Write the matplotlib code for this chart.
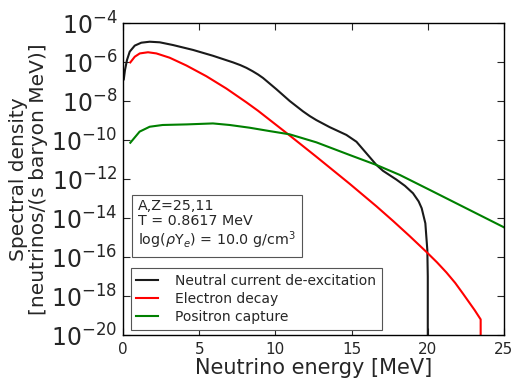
import matplotlib
matplotlib.use('Agg')
import matplotlib.pyplot as plt
import numpy as np

# neutrino spectra, energies in MeV, values as log10 of spectral density
e_nc = [0.05, 0.13, 0.26, 0.44, 0.77, 1.2, 1.75, 2.41, 3.28, 4.59, 5.9, 7.22, 7.7,
        8.1, 8.5, 8.86, 9.19, 10.07, 10.94, 11.81, 12.25, 12.69, 13.56, 14.66, 15.32,
        15.97, 16.63, 17.06, 17.94, 18.5, 19.03, 19.4, 19.6, 19.84, 19.97, 20.0, 20.0]
log_nc = [-6.89, -6.41, -5.9, -5.47, -5.16, -5.01, -4.96, -4.99, -5.13, -5.38, -5.68,
          -6.02, -6.16, -6.3, -6.47, -6.64, -6.82, -7.4, -8.0, -8.53, -8.77, -8.98,
          -9.34, -9.74, -10.09, -10.68, -11.28, -11.58, -12.03, -12.35, -12.73, -13.15,
          -13.5, -14.27, -15.64, -17.0, -21.0]

e_ed = [0.48, 0.77, 1.1, 1.64, 2.19, 3.06, 4.16, 5.47, 6.78, 8.1, 8.86, 9.63, 10.94,
        12.69, 14.88, 16.63, 17.72, 18.8, 19.91, 20.6, 21.22, 21.8, 22.31, 23.08,
        23.47, 23.47]
log_ed = [-6.02, -5.73, -5.56, -5.5, -5.56, -5.78, -6.18, -6.73, -7.36, -8.07, -8.5,
          -8.97, -9.77, -10.86, -12.25, -13.4, -14.15, -14.92, -15.74, -16.27, -16.79,
          -17.33, -17.88, -18.73, -19.2, -21.0]

e_pc = [0.48, 1.09, 1.75, 2.6, 4.18, 5.9, 7.0, 8.31, 9.6, 10.94, 12.69, 14.88, 16.63,
        18.16, 20.13, 24.93, 25.0]
log_pc = [-10.14, -9.57, -9.32, -9.23, -9.2, -9.15, -9.23, -9.37, -9.54, -9.71, -10.12,
          -10.77, -11.28, -11.79, -12.56, -14.45, -14.48]

labels = ['Neutral current de-excitation', 'Electron decay', 'Positron capture']
colors = ['#1a1a1a', 'red', 'green']

txt_color = '#262626'
plt.rcParams['mathtext.fontset'] = 'dejavusans'

fig = plt.figure(figsize=(5.16, 3.84), dpi=100)
ax = fig.add_axes([0.2384, 0.1276, 0.7383, 0.8125])

series = [(e_nc, log_nc), (e_ed, log_ed), (e_pc, log_pc)]
for (e, lg), lab, c in zip(series, labels, colors):
    ax.semilogy(e, 10.0 ** np.array(lg), color=c, lw=1.5, label=lab)

ax.set_xlim(0, 25)
ax.set_ylim(1e-20, 1e-4)
ax.set_xticks([0, 5, 10, 15, 20, 25])
yt = [10.0 ** k for k in range(-20, -3, 2)]
ax.set_yticks(yt)
ax.set_yticklabels([r'$10^{%d}$' % k for k in range(-20, -3, 2)])
ax.minorticks_off()
ax.tick_params(direction='in', top=True, right=True, length=5, width=0.8,
               colors=txt_color)
ax.tick_params(axis='x', labelsize=11, pad=5)
ax.tick_params(axis='y', labelsize=17, pad=4)
for sp in ax.spines.values():
    sp.set_color('black')
    sp.set_linewidth(1.0)

ax.set_xlabel('Neutrino energy [MeV]', fontsize=15, color=txt_color, labelpad=1)
ax.set_ylabel('Spectral density\n[neutrinos/(s baryon MeV)]', fontsize=14.5,
              color=txt_color, labelpad=2, linespacing=1.1)

ax.text(0.04, 0.437, 'A,Z=25,11\nT = 0.8617 MeV\n' + r'log($\rho$Y$_e$) = 10.0 g/cm$^3$',
        transform=ax.transAxes, fontsize=10.3, color=txt_color, va='top', ha='left',
        linespacing=1.1,
        bbox=dict(boxstyle='square,pad=0.45', facecolor='white', edgecolor='#555555', lw=0.8))

leg = ax.legend(loc='lower left', bbox_to_anchor=(0.02, 0.017), borderaxespad=0,
                fontsize=10, fancybox=False, edgecolor='#555555', framealpha=1,
                handlelength=1.6, handletextpad=1.2, labelspacing=0.3,
                borderpad=0.4)
leg.get_frame().set_linewidth(0.8)
for t in leg.get_texts():
    t.set_color(txt_color)

fig.savefig('out.png', dpi=100)
